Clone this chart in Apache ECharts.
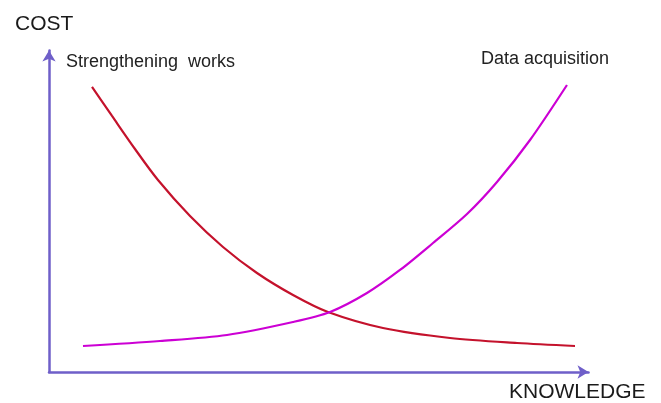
<!DOCTYPE html>
<html>
<head>
<meta charset="utf-8">
<script src="https://cdn.jsdelivr.net/npm/echarts@6/dist/echarts.min.js"></script>
<style>html,body{margin:0;padding:0;background:#fff;}#chart{width:661px;height:403px;}</style>
</head>
<body>
<div id="chart"></div>
<script>
var strengthening = [[7.97,88.65],[11.68,79.63],[15.94,69.36],[20.20,59.72],[26.14,48.52],[32.25,38.88],[38.55,30.79],[45.23,23.95],[51.71,18.66],[61.91,13.69],[74.33,10.58],[86.75,9.02],[97.50,8.09]];
var acquisition = [[6.30,8.09],[20.57,9.64],[32.99,11.51],[45.23,15.55],[52.09,18.66],[58.94,24.57],[65.06,31.73],[71.18,40.12],[77.48,49.14],[83.04,59.10],[89.16,72.16],[96.01,89.27]];
var yName = 'COST';
var xName = 'KNOWLEDGE';
var seriesNames = ['Strengthening  works', 'Data acquisition'];

var chart = echarts.init(document.getElementById('chart'), null, {renderer: 'canvas'});
var axisColor = '#6f5fc9';
var font = "'Liberation Sans', Arial, sans-serif";
chart.setOption({
  animation: false,
  backgroundColor: '#ffffff',
  grid: {left: 49, right: 72.5, top: 50.5, bottom: 31},
  xAxis: {
    type: 'value', min: 0, max: 100,
    axisLine: {show: true, onZero: false, symbol: ['none', 'arrow'], symbolSize: [10, 11], lineStyle: {color: axisColor, width: 2.5}},
    axisTick: {show: false}, axisLabel: {show: false}, splitLine: {show: false}
  },
  yAxis: {
    type: 'value', min: 0, max: 100,
    axisLine: {show: true, onZero: false, symbol: ['none', 'arrow'], symbolSize: [10, 11], lineStyle: {color: axisColor, width: 2.5}},
    axisTick: {show: false}, axisLabel: {show: false}, splitLine: {show: false}
  },
  series: [
    {name: seriesNames[0], type: 'line', data: strengthening, smooth: 0.3, showSymbol: false,
     lineStyle: {color: '#c4122c', width: 2.2}},
    {name: seriesNames[1], type: 'line', data: acquisition, smooth: 0.3, showSymbol: false,
     lineStyle: {color: '#cc00d4', width: 2.2}}
  ],
  graphic: [
    {type: 'text', left: 15, top: 14, style: {text: yName, fontSize: 21, fontFamily: font, fill: '#1a1a1a'}},
    {type: 'text', left: 66, top: 53, style: {text: seriesNames[0], fontSize: 18, fontFamily: font, fill: '#222'}},
    {type: 'text', left: 481, top: 50, style: {text: seriesNames[1], fontSize: 18, fontFamily: font, fill: '#222'}},
    {type: 'text', left: 509, top: 382, style: {text: xName, fontSize: 21, fontFamily: font, fill: '#1a1a1a'}}
  ]
});
</script>
</body>
</html>
